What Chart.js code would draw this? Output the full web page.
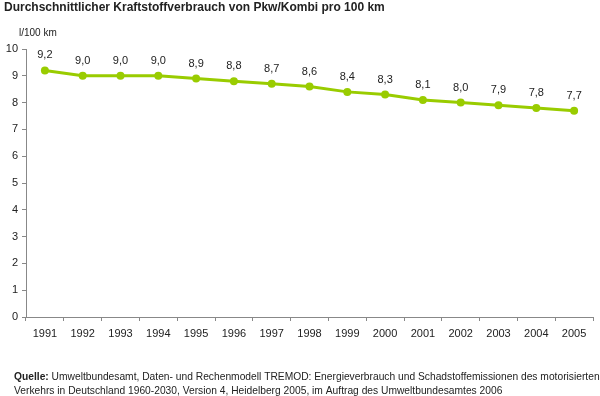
<!DOCTYPE html>
<html>
<head>
<meta charset="utf-8">
<script src="https://cdn.jsdelivr.net/npm/chart.js@4.4.1/dist/chart.umd.min.js"></script>
<style>
  html, body { margin: 0; padding: 0; background: #ffffff; }
  #wrap { width: 600px; height: 396px; position: relative; }
</style>
</head>
<body>
<div id="wrap"><canvas id="c" width="600" height="396"></canvas></div>
<script>
const years = ['1991','1992','1993','1994','1995','1996','1997','1998','1999','2000','2001','2002','2003','2004','2005'];
const consumption = [9.2, 9.0, 9.0, 9.0, 8.9, 8.8, 8.7, 8.6, 8.4, 8.3, 8.1, 8.0, 7.9, 7.8, 7.7];
const yTicks = [0,1,2,3,4,5,6,7,8,9,10];
const titleText = 'Durchschnittlicher Kraftstoffverbrauch von Pkw/Kombi pro 100 km';
const unitText = 'l/100 km';
const sourceBold = 'Quelle:';
const sourceLine1 = ' Umweltbundesamt, Daten- und Rechenmodell TREMOD: Energieverbrauch und Schadstoffemissionen des motorisierten';
const sourceLine2 = 'Verkehrs in Deutschland 1960-2030, Version 4, Heidelberg 2005, im Auftrag des Umweltbundesamtes 2006';

const FONT = '"Liberation Sans", Arial, sans-serif';
const fmt = v => v.toFixed(1).replace('.', ',');

const textPlugin = {
  id: 'texts',
  beforeDraw(chart) {
    const ctx = chart.ctx;
    ctx.save();
    ctx.fillStyle = '#ffffff';
    ctx.fillRect(0, 0, chart.width, chart.height);
    ctx.restore();
  },
  afterDraw(chart) {
    const ctx = chart.ctx;
    ctx.save();
    ctx.fillStyle = '#222222';
    ctx.textBaseline = 'middle';
    ctx.textAlign = 'left';
    ctx.font = 'bold 12px ' + FONT;
    ctx.fillText(titleText, 4, 8);
    ctx.font = '10px ' + FONT;
    ctx.fillText(unitText, 19, 33);
    // source (horizontally condensed to match reference width)
    ctx.save();
    ctx.translate(14, 0);
    ctx.scale(0.932, 1);
    ctx.font = 'bold 11px ' + FONT;
    ctx.fillText(sourceBold, 0, 377);
    const w = ctx.measureText(sourceBold).width;
    ctx.font = '11px ' + FONT;
    ctx.fillText(sourceLine1, w, 377);
    ctx.fillText(sourceLine2, 0, 391);
    ctx.restore();
    // data labels
    const meta = chart.getDatasetMeta(0);
    ctx.textAlign = 'center';
    ctx.font = '11px ' + FONT;
    meta.data.forEach((pt, i) => {
      ctx.fillText(fmt(consumption[i]), pt.x, pt.y - 15);
    });
    ctx.restore();
  }
};

new Chart(document.getElementById('c'), {
  type: 'line',
  data: {
    labels: years,
    datasets: [{
      data: consumption,
      borderColor: '#99cc00',
      backgroundColor: '#99cc00',
      borderWidth: 3,
      pointRadius: 4,
      pointHoverRadius: 4,
      pointBorderWidth: 0,
      tension: 0
    }]
  },
  options: {
    responsive: false,
    animation: false,
    devicePixelRatio: 1,
    layout: { padding: { left: 0, right: 7, top: 49, bottom: 0 } },
    plugins: { legend: { display: false }, tooltip: { enabled: false }, title: { display: false } },
    scales: {
      x: {
        offset: true,
        grid: { offset: true, drawOnChartArea: false, drawTicks: true, tickLength: 4, color: '#888888' },
        border: { color: '#888888', width: 1 },
        ticks: { color: '#222222', font: { family: FONT, size: 11 }, padding: 6, maxRotation: 0, autoSkip: false },
        afterFit: s => { s.height = 79; }
      },
      y: {
        min: 0, max: 10,
        afterBuildTicks: s => { s.ticks = yTicks.map(v => ({ value: v })); },
        grid: { drawOnChartArea: false, drawTicks: true, tickLength: 4, color: '#888888' },
        border: { color: '#888888', width: 1 },
        ticks: { color: '#222222', font: { family: FONT, size: 11 }, padding: 4 },
        afterFit: s => { s.width = 26; }
      }
    }
  },
  plugins: [textPlugin]
});
</script>
</body>
</html>
